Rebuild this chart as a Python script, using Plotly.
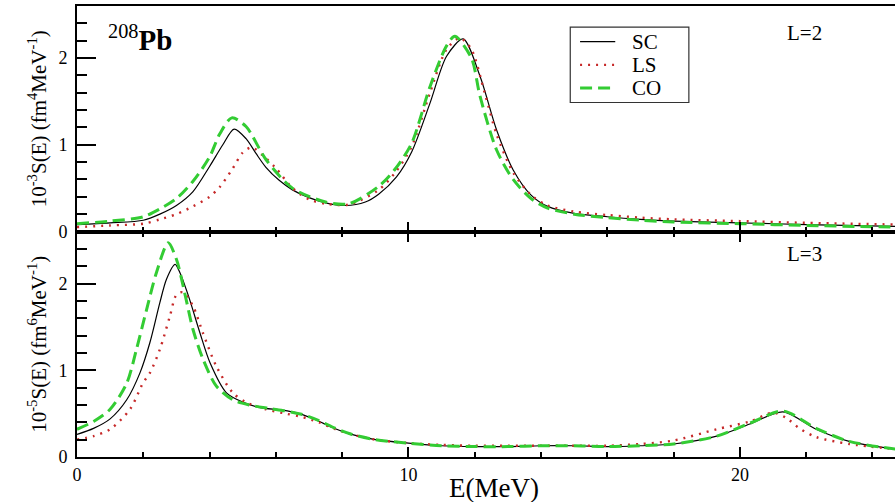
import plotly.graph_objects as go

# ---------------- data ----------------
# L = 2 panel  (10^-3 S(E), fm^4 MeV^-1)
E2_SC = [0, 1, 2, 2.5, 3, 3.5, 4, 4.4, 4.74, 5.1, 5.4, 5.7, 6.1, 6.5, 7.0, 7.5, 8.1, 8.7, 9.1, 9.64, 10.1, 10.65, 11.15, 11.65, 12.16, 12.66, 13.16, 13.7, 14.2, 15, 16, 17, 18, 20, 22, 24.7]
S2_SC = [0.08, 0.1, 0.13, 0.2, 0.3, 0.46, 0.75, 1.0, 1.18, 1.07, 0.9, 0.74, 0.59, 0.48, 0.39, 0.33, 0.30, 0.34, 0.43, 0.63, 0.92, 1.48, 2.02, 2.22, 1.79, 1.17, 0.71, 0.42, 0.29, 0.21, 0.17, 0.14, 0.12, 0.1, 0.08, 0.06]

E2_LS = [0, 1, 2, 2.5, 3, 3.5, 4, 4.3, 4.67, 5.0, 5.27, 5.6, 6.0, 6.5, 7.0, 7.5, 8.2, 9.1, 9.6, 10.1, 10.65, 11.15, 11.55, 11.9, 12.3, 12.66, 13.16, 13.7, 14.2, 15, 16, 17, 18, 20, 22, 24.7]
S2_LS = [0.05, 0.07, 0.09, 0.14, 0.2, 0.29, 0.4, 0.51, 0.71, 0.91, 0.97, 0.88, 0.73, 0.5, 0.37, 0.32, 0.31, 0.48, 0.68, 0.98, 1.6, 2.1, 2.23, 2.1, 1.6, 1.12, 0.68, 0.42, 0.3, 0.23, 0.19, 0.16, 0.14, 0.12, 0.1, 0.08]

E2_CO = [0, 1, 2, 2.5, 3, 3.5, 4, 4.3, 4.67, 5.1, 5.7, 6.5, 7.5, 8.2, 9.1, 9.6, 10.1, 10.65, 11.15, 11.4, 11.9, 12.16, 12.66, 13.16, 13.7, 14.2, 15, 16, 17, 18, 20, 22, 24.7]
S2_CO = [0.09, 0.12, 0.17, 0.26, 0.38, 0.58, 0.86, 1.12, 1.31, 1.21, 0.83, 0.5, 0.34, 0.32, 0.52, 0.72, 1.02, 1.67, 2.14, 2.25, 2.0, 1.56, 0.94, 0.6, 0.38, 0.27, 0.2, 0.16, 0.13, 0.11, 0.09, 0.07, 0.05]

# L = 3 panel  (10^-5 S(E), fm^6 MeV^-1)
E3_SC = [0, 0.5, 1.0, 1.5, 1.9, 2.2, 2.5, 2.7, 2.96, 3.1, 3.36, 3.71, 4.01, 4.51, 5.02, 5.52, 6.2, 6.7, 7.2, 7.7, 8.2, 9, 10, 11, 12, 13, 14, 15, 16, 17, 18, 19.3, 20.3, 21.3, 22.3, 23.3, 24.7]
S3_SC = [0.26, 0.33, 0.44, 0.66, 0.97, 1.32, 1.78, 2.05, 2.22, 2.13, 1.86, 1.43, 1.09, 0.74, 0.63, 0.57, 0.54, 0.5, 0.43, 0.34, 0.27, 0.2, 0.16, 0.13, 0.12, 0.12, 0.13, 0.13, 0.12, 0.13, 0.15, 0.24, 0.38, 0.52, 0.32, 0.18, 0.09]

E3_LS = [0, 0.5, 1.0, 1.6, 2.0, 2.2, 2.5, 2.8, 3.0, 3.2, 3.5, 3.8, 4.2, 4.7, 5.1, 5.7, 6.3, 6.8, 7.3, 7.8, 8.3, 9, 10, 11, 12, 13, 14, 15, 16, 17, 18, 19.3, 20.3, 21.0, 21.4, 21.8, 22.3, 23.3, 24.7]
S3_LS = [0.2, 0.24, 0.32, 0.55, 0.86, 0.97, 1.24, 1.62, 1.87, 1.9, 1.74, 1.43, 1.05, 0.74, 0.63, 0.55, 0.5, 0.46, 0.4, 0.32, 0.26, 0.2, 0.16, 0.14, 0.13, 0.13, 0.13, 0.13, 0.13, 0.15, 0.19, 0.32, 0.41, 0.51, 0.45, 0.33, 0.23, 0.15, 0.09]

E3_CO = [0, 0.5, 1.0, 1.5, 1.8, 2.1, 2.4, 2.75, 3.0, 3.25, 3.5, 3.8, 4.2, 4.7, 5.2, 5.8, 6.3, 6.8, 7.3, 7.8, 8.3, 9, 10, 11, 12, 13, 14, 15, 16, 17, 18, 19.3, 20.3, 21.3, 22.3, 23.3, 24.7]
S3_CO = [0.32, 0.41, 0.55, 0.85, 1.25, 1.7, 2.13, 2.47, 2.28, 1.89, 1.47, 1.13, 0.82, 0.66, 0.6, 0.56, 0.53, 0.49, 0.42, 0.33, 0.26, 0.2, 0.16, 0.13, 0.12, 0.12, 0.13, 0.13, 0.12, 0.13, 0.15, 0.24, 0.39, 0.53, 0.33, 0.18, 0.09]

SERIES_NAMES = ["SC", "LS", "CO"]
X_TICKS = [0, 10, 20]
Y_TICKS = [0, 1, 2]

# ---------------- styling ----------------
FONT = "Liberation Serif"
styles = {
    "SC": dict(color="black", width=1.2, dash="solid"),
    "LS": dict(color="#c62828", width=2.4, dash="2px,6px"),
    "CO": dict(color="#33cc33", width=3, dash="12px,6px"),
}

fig = go.Figure()

top = {"SC": (E2_SC, S2_SC), "LS": (E2_LS, S2_LS), "CO": (E2_CO, S2_CO)}
bot = {"SC": (E3_SC, S3_SC), "LS": (E3_LS, S3_LS), "CO": (E3_CO, S3_CO)}

for name in SERIES_NAMES:
    x, y = top[name]
    fig.add_trace(go.Scatter(x=x, y=y, mode="lines", name=name, showlegend=False,
                             line=dict(shape="spline", smoothing=0.8, **styles[name]),
                             xaxis="x", yaxis="y"))
for name in SERIES_NAMES:
    x, y = bot[name]
    fig.add_trace(go.Scatter(x=x, y=y, mode="lines", name=name, showlegend=False,
                             line=dict(shape="spline", smoothing=0.8, **styles[name]),
                             xaxis="x2", yaxis="y2"))

XMAX = 24.68
common_x = dict(range=[0, XMAX], showgrid=False, zeroline=False, showline=True,
                linecolor="black", linewidth=2, ticks="inside", ticklen=10,
                tickwidth=1.5, tickcolor="black", tickvals=X_TICKS, automargin=False,
                minor=dict(dtick=2, ticklen=5, tickwidth=1.5, ticks="inside", tickcolor="black"),
                tickfont=dict(family=FONT, size=18, color="black"))
common_y = dict(range=[0, 2.6], showgrid=False, zeroline=False, showline=True,
                linecolor="black", linewidth=2, ticks="inside", ticklen=19,
                tickwidth=1.5, tickcolor="black", tickvals=Y_TICKS, automargin=False,
                minor=dict(dtick=0.2, ticklen=10, tickwidth=1.5, ticks="inside", tickcolor="black"),
                tickfont=dict(family=FONT, size=18, color="black"),
                ticklabelstandoff=4)

fig.update_layout(
    width=895, height=502,
    margin=dict(l=77, r=0, t=6, b=45, autoexpand=False),
    paper_bgcolor="white", plot_bgcolor="white",
    font=dict(family=FONT, color="black"),
    showlegend=False,
    xaxis=dict(anchor="y", domain=[0, 1], showticklabels=False, mirror=True, **common_x),
    yaxis=dict(anchor="x", domain=[0.5, 1],
               title=dict(text="10<sup>-3</sup>S(E) (fm<sup>4</sup>MeV<sup>-1</sup>)",
                          font=dict(family=FONT, size=21), standoff=6),
               **common_y),
    xaxis2=dict(anchor="y2", domain=[0, 1], matches="x", mirror="ticks", **common_x),
    yaxis2=dict(anchor="x2", domain=[0, 0.5],
                title=dict(text="10<sup>-5</sup>S(E) (fm<sup>6</sup>MeV<sup>-1</sup>)",
                           font=dict(family=FONT, size=21), standoff=6),
                **common_y),
)

# x-axis title
fig.add_annotation(text="E(MeV)", xref="paper", yref="paper", x=0.51, y=-0.068,
                   xanchor="center", yanchor="middle", showarrow=False,
                   font=dict(family=FONT, size=27, color="black"))

# panel labels
fig.add_annotation(text="<sup>208</sup><b>Pb</b>", xref="x domain", yref="y domain",
                   x=0.036, y=0.86, xanchor="left", yanchor="middle", showarrow=False,
                   font=dict(family=FONT, size=29, color="black"))
fig.add_annotation(text="L=2", xref="x domain", yref="y domain",
                   x=0.889, y=0.88, xanchor="center", yanchor="middle", showarrow=False,
                   font=dict(family=FONT, size=21, color="black"))
fig.add_annotation(text="L=3", xref="x2 domain", yref="y2 domain",
                   x=0.889, y=0.90, xanchor="center", yanchor="middle", showarrow=False,
                   font=dict(family=FONT, size=21, color="black"))

# legend box (drawn in the top panel's domain coordinates)
LEG_X0, LEG_X1, LEG_Y0, LEG_Y1 = 0.603, 0.748, 0.572, 0.906
fig.add_shape(type="rect", xref="x domain", yref="y domain",
              x0=LEG_X0, x1=LEG_X1, y0=LEG_Y0, y1=LEG_Y1,
              line=dict(color="#333", width=1.2), fillcolor="white", layer="above")
row_y = [0.842, 0.739, 0.636]
for name, ry in zip(SERIES_NAMES, row_y):
    st = styles[name]
    fig.add_shape(type="line", xref="x domain", yref="y domain",
                  x0=LEG_X0 + 0.012, x1=LEG_X0 + 0.055, y0=ry, y1=ry,
                  line=dict(color=st["color"], width=st["width"], dash=st["dash"]),
                  layer="above")
    fig.add_annotation(text=name, xref="x domain", yref="y domain",
                       x=LEG_X0 + 0.074, y=ry, xanchor="left", yanchor="middle",
                       showarrow=False, borderpad=0,
                       font=dict(family=FONT, size=21, color="black"))

fig.write_html("out.html", config={"displayModeBar": False},
               post_script="document.body.style.margin='0';")
